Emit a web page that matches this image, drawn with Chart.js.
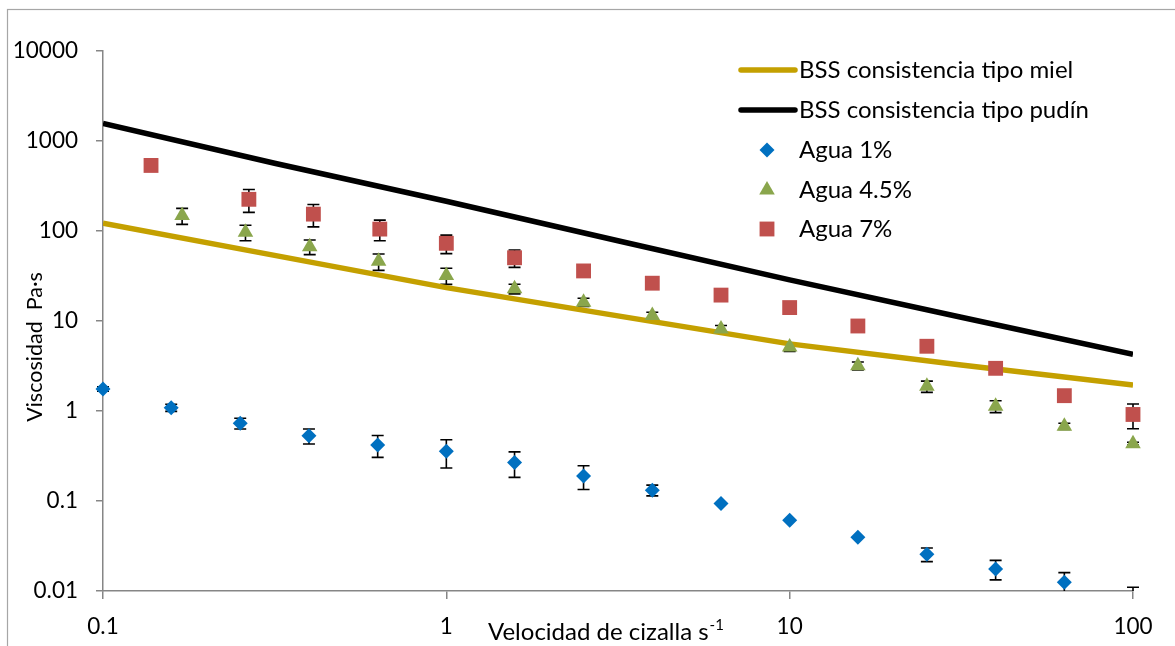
<!DOCTYPE html>
<html>
<head>
<meta charset="utf-8">
<script src="https://cdn.jsdelivr.net/npm/chart.js@4"></script>
<style>
  html, body { margin: 0; padding: 0; background: #fff; }
  #chart { display: block; }
</style>
</head>
<body>
<canvas id="chart" width="1175" height="646"></canvas>
<script>
// values (log-log axes)
const rateTicks = [0.1, 1, 10, 100];
const rateTickLabels = ['0.1', '1', '10', '100'];
const viscTicks = [0.01, 0.1, 1, 10, 100, 1000, 10000];
const viscTickLabels = ['0.01', '0.1', '1', '10', '100', '1000', '10000'];

const seriesNames = ['BSS consistencia tipo miel', 'BSS consistencia tipo pudín', 'Agua 1%', 'Agua 4.5%', 'Agua 7%'];

const curveRate = [0.1, 0.316, 1, 3.16, 10, 31.6, 100];
const mielVisc = [122, 53.6, 23.5, 11.4, 5.57, 3.24, 1.95];
const pudinVisc = [1565, 566, 214, 78, 28.6, 11.0, 4.27];

const agua1Rate = [0.1, 0.158, 0.251, 0.398, 0.631, 1, 1.58, 2.51, 3.98, 6.31, 10, 15.8, 25.1, 39.8, 63.1, 100];
const agua1Visc = [1.76, 1.09, 0.73, 0.53, 0.42, 0.356, 0.267, 0.19, 0.132, 0.094, 0.061, 0.0395, 0.0256, 0.0176, 0.0125, 0.008];
const agua1Err = [0.1, 0.1, 0.1, 0.1, 0.115, 0.123, 0.084, 0.056, 0.018, 0, 0, 0, 0.0044, 0.0043, 0.0035, 0.003];

const agua45Rate = [0.17, 0.26, 0.4, 0.635, 1, 1.58, 2.51, 3.98, 6.31, 10, 15.8, 25.1, 39.8, 63.1, 100];
const agua45Visc = [148.6, 96.8, 67, 46, 32, 22.8, 16.2, 11.5, 8.15, 5.14, 3.18, 1.88, 1.13, 0.676, 0.434];
const agua45Err = [30, 19, 12.4, 9.5, 6.5, 2.8, 1.7, 1.0, 0.75, 0.56, 0.32, 0.27, 0.17, 0.054, 0.016];

const agua7Rate = [0.138, 0.266, 0.41, 0.64, 1, 1.58, 2.51, 3.98, 6.31, 10, 15.8, 25.1, 39.8, 63.1, 100];
const agua7Visc = [535, 225, 154, 105, 73, 50.4, 36, 26.3, 19.4, 14.1, 8.8, 5.24, 2.98, 1.48, 0.915];
const agua7Err = [0, 64, 43, 27, 17, 11, 0, 0, 0, 0, 0, 0, 0, 0, 0.28];

const FONT = 'Lato';
const AXIS_GREY = '#868686';

function pts(xs, ys) {
    return xs.map((v, i) => ({x: v, y: ys[i]}));
}

// Excel style error bars, drawn under the markers
const errorBars = {
    id: 'errorBars',
    beforeDatasetsDraw(chart) {
        const {ctx, chartArea, scales} = chart;
        ctx.save();
        ctx.beginPath();
        ctx.rect(0, 0, chart.width, chartArea.bottom);
        ctx.clip();
        ctx.strokeStyle = '#000';
        ctx.lineWidth = 1.6;
        chart.data.datasets.forEach(ds => {
            if (!ds.errors) return;
            ds.data.forEach((p, i) => {
                const e = ds.errors[i];
                if (!e) return;
                const px = scales.x.getPixelForValue(p.x);
                const top = scales.y.getPixelForValue(p.y + e);
                const bot = scales.y.getPixelForValue(p.y - e);
                ctx.beginPath();
                ctx.moveTo(px, top); ctx.lineTo(px, bot);
                ctx.moveTo(px - 6, top); ctx.lineTo(px + 6, top);
                ctx.moveTo(px - 6, bot); ctx.lineTo(px + 6, bot);
                ctx.stroke();
            });
        });
        ctx.restore();
    }
};

// frame, axis titles and the legend inside the plot
const decorations = {
    id: 'decorations',
    afterDraw(chart) {
        const ctx = chart.ctx;
        ctx.save();
        ctx.strokeStyle = '#a6a6a6';
        ctx.lineWidth = 1.2;
        ctx.strokeRect(7.5, 9.5, 1300, 800);

        ctx.fillStyle = '#000';
        // y title
        ctx.save();
        ctx.translate(35, 347);
        ctx.rotate(-Math.PI / 2);
        ctx.font = '21.5px ' + FONT;
        ctx.textAlign = 'center';
        ctx.textBaseline = 'middle';
        ctx.fillText('Viscosidad  Pa\u00b7s', 0, 0);
        ctx.restore();

        // x title with superscript
        ctx.font = '24px ' + FONT;
        ctx.textAlign = 'left';
        ctx.textBaseline = 'alphabetic';
        const main = 'Velocidad de cizalla s';
        ctx.fillText(main, 488, 640);
        const w = ctx.measureText(main).width;
        ctx.font = '15px ' + FONT;
        ctx.fillText('-1', 488 + w + 1, 630);

        // legend
        const rows = [70, 110, 150, 190, 229];
        chart.data.datasets.forEach((ds, i) => {
            const y = rows[i];
            if (ds.showLine) {
                ctx.strokeStyle = ds.borderColor;
                ctx.lineWidth = ds.borderWidth;
                ctx.lineCap = 'round';
                ctx.beginPath();
                ctx.moveTo(741, y);
                ctx.lineTo(795, y);
                ctx.stroke();
            } else {
                ctx.fillStyle = ds.backgroundColor;
                Chart.helpers.drawPoint(ctx, {
                    pointStyle: ds.pointStyle, radius: ds.pointRadius, rotation: 0, borderWidth: 0
                }, 767, y);
            }
            ctx.fillStyle = '#000';
            ctx.font = '24px ' + FONT;
            ctx.textAlign = 'left';
            ctx.textBaseline = 'middle';
            ctx.fillText(ds.label, 799, y);
        });
        ctx.restore();
    }
};

const markerClip = {left: false, top: false, right: false, bottom: 0};

new Chart(document.getElementById('chart'), {
    type: 'scatter',
    data: {
        datasets: [
            {
                label: seriesNames[0],
                data: pts(curveRate, mielVisc),
                showLine: true,
                borderColor: '#c4a000',
                borderWidth: 5.5,
                pointRadius: 0,
                order: 5
            },
            {
                label: seriesNames[1],
                data: pts(curveRate, pudinVisc),
                showLine: true,
                borderColor: '#000000',
                borderWidth: 5.5,
                pointRadius: 0,
                order: 4
            },
            {
                label: seriesNames[2],
                data: pts(agua1Rate, agua1Visc),
                errors: agua1Err,
                pointStyle: 'rectRot',
                pointRadius: 7.5,
                backgroundColor: '#0070c0',
                borderWidth: 0,
                clip: markerClip,
                order: 3
            },
            {
                label: seriesNames[3],
                data: pts(agua45Rate, agua45Visc),
                errors: agua45Err,
                pointStyle: 'triangle',
                pointRadius: 9,
                backgroundColor: '#8aa64c',
                borderWidth: 0,
                clip: markerClip,
                order: 2
            },
            {
                label: seriesNames[4],
                data: pts(agua7Rate, agua7Visc),
                errors: agua7Err,
                pointStyle: 'rect',
                pointRadius: 10.5,
                backgroundColor: '#c0504d',
                borderWidth: 0,
                clip: markerClip,
                order: 1
            }
        ]
    },
    options: {
        responsive: false,
        animation: false,
        events: [],
        layout: { padding: { left: 0, right: 42, top: 51, bottom: 0 } },
        plugins: {
            legend: { display: false },
            tooltip: { enabled: false }
        },
        scales: {
            x: {
                type: 'logarithmic',
                min: 0.1,
                max: 100,
                afterBuildTicks: s => { s.ticks = rateTicks.map(v => ({value: v})); },
                afterFit: s => { s.height = 55; },
                ticks: {
                    font: { family: FONT, size: 22.5 },
                    color: '#000',
                    padding: 14,
                    maxRotation: 0,
                    callback: (v, i) => rateTickLabels[i]
                },
                grid: { drawOnChartArea: false, drawTicks: true, tickLength: 8, color: AXIS_GREY, lineWidth: 1.5 },
                border: { color: AXIS_GREY, width: 1.5 }
            },
            y: {
                type: 'logarithmic',
                min: 0.01,
                max: 10000,
                afterBuildTicks: s => { s.ticks = viscTicks.map(v => ({value: v})); },
                afterFit: s => { s.width = 103; },
                ticks: {
                    font: { family: FONT, size: 22.5 },
                    color: '#000',
                    padding: 18,
                    callback: (v, i) => viscTickLabels[i]
                },
                grid: { drawOnChartArea: false, drawTicks: true, tickLength: 7, color: AXIS_GREY, lineWidth: 1.5 },
                border: { color: AXIS_GREY, width: 1.5 }
            }
        }
    },
    plugins: [errorBars, decorations]
});
</script>
</body>
</html>
